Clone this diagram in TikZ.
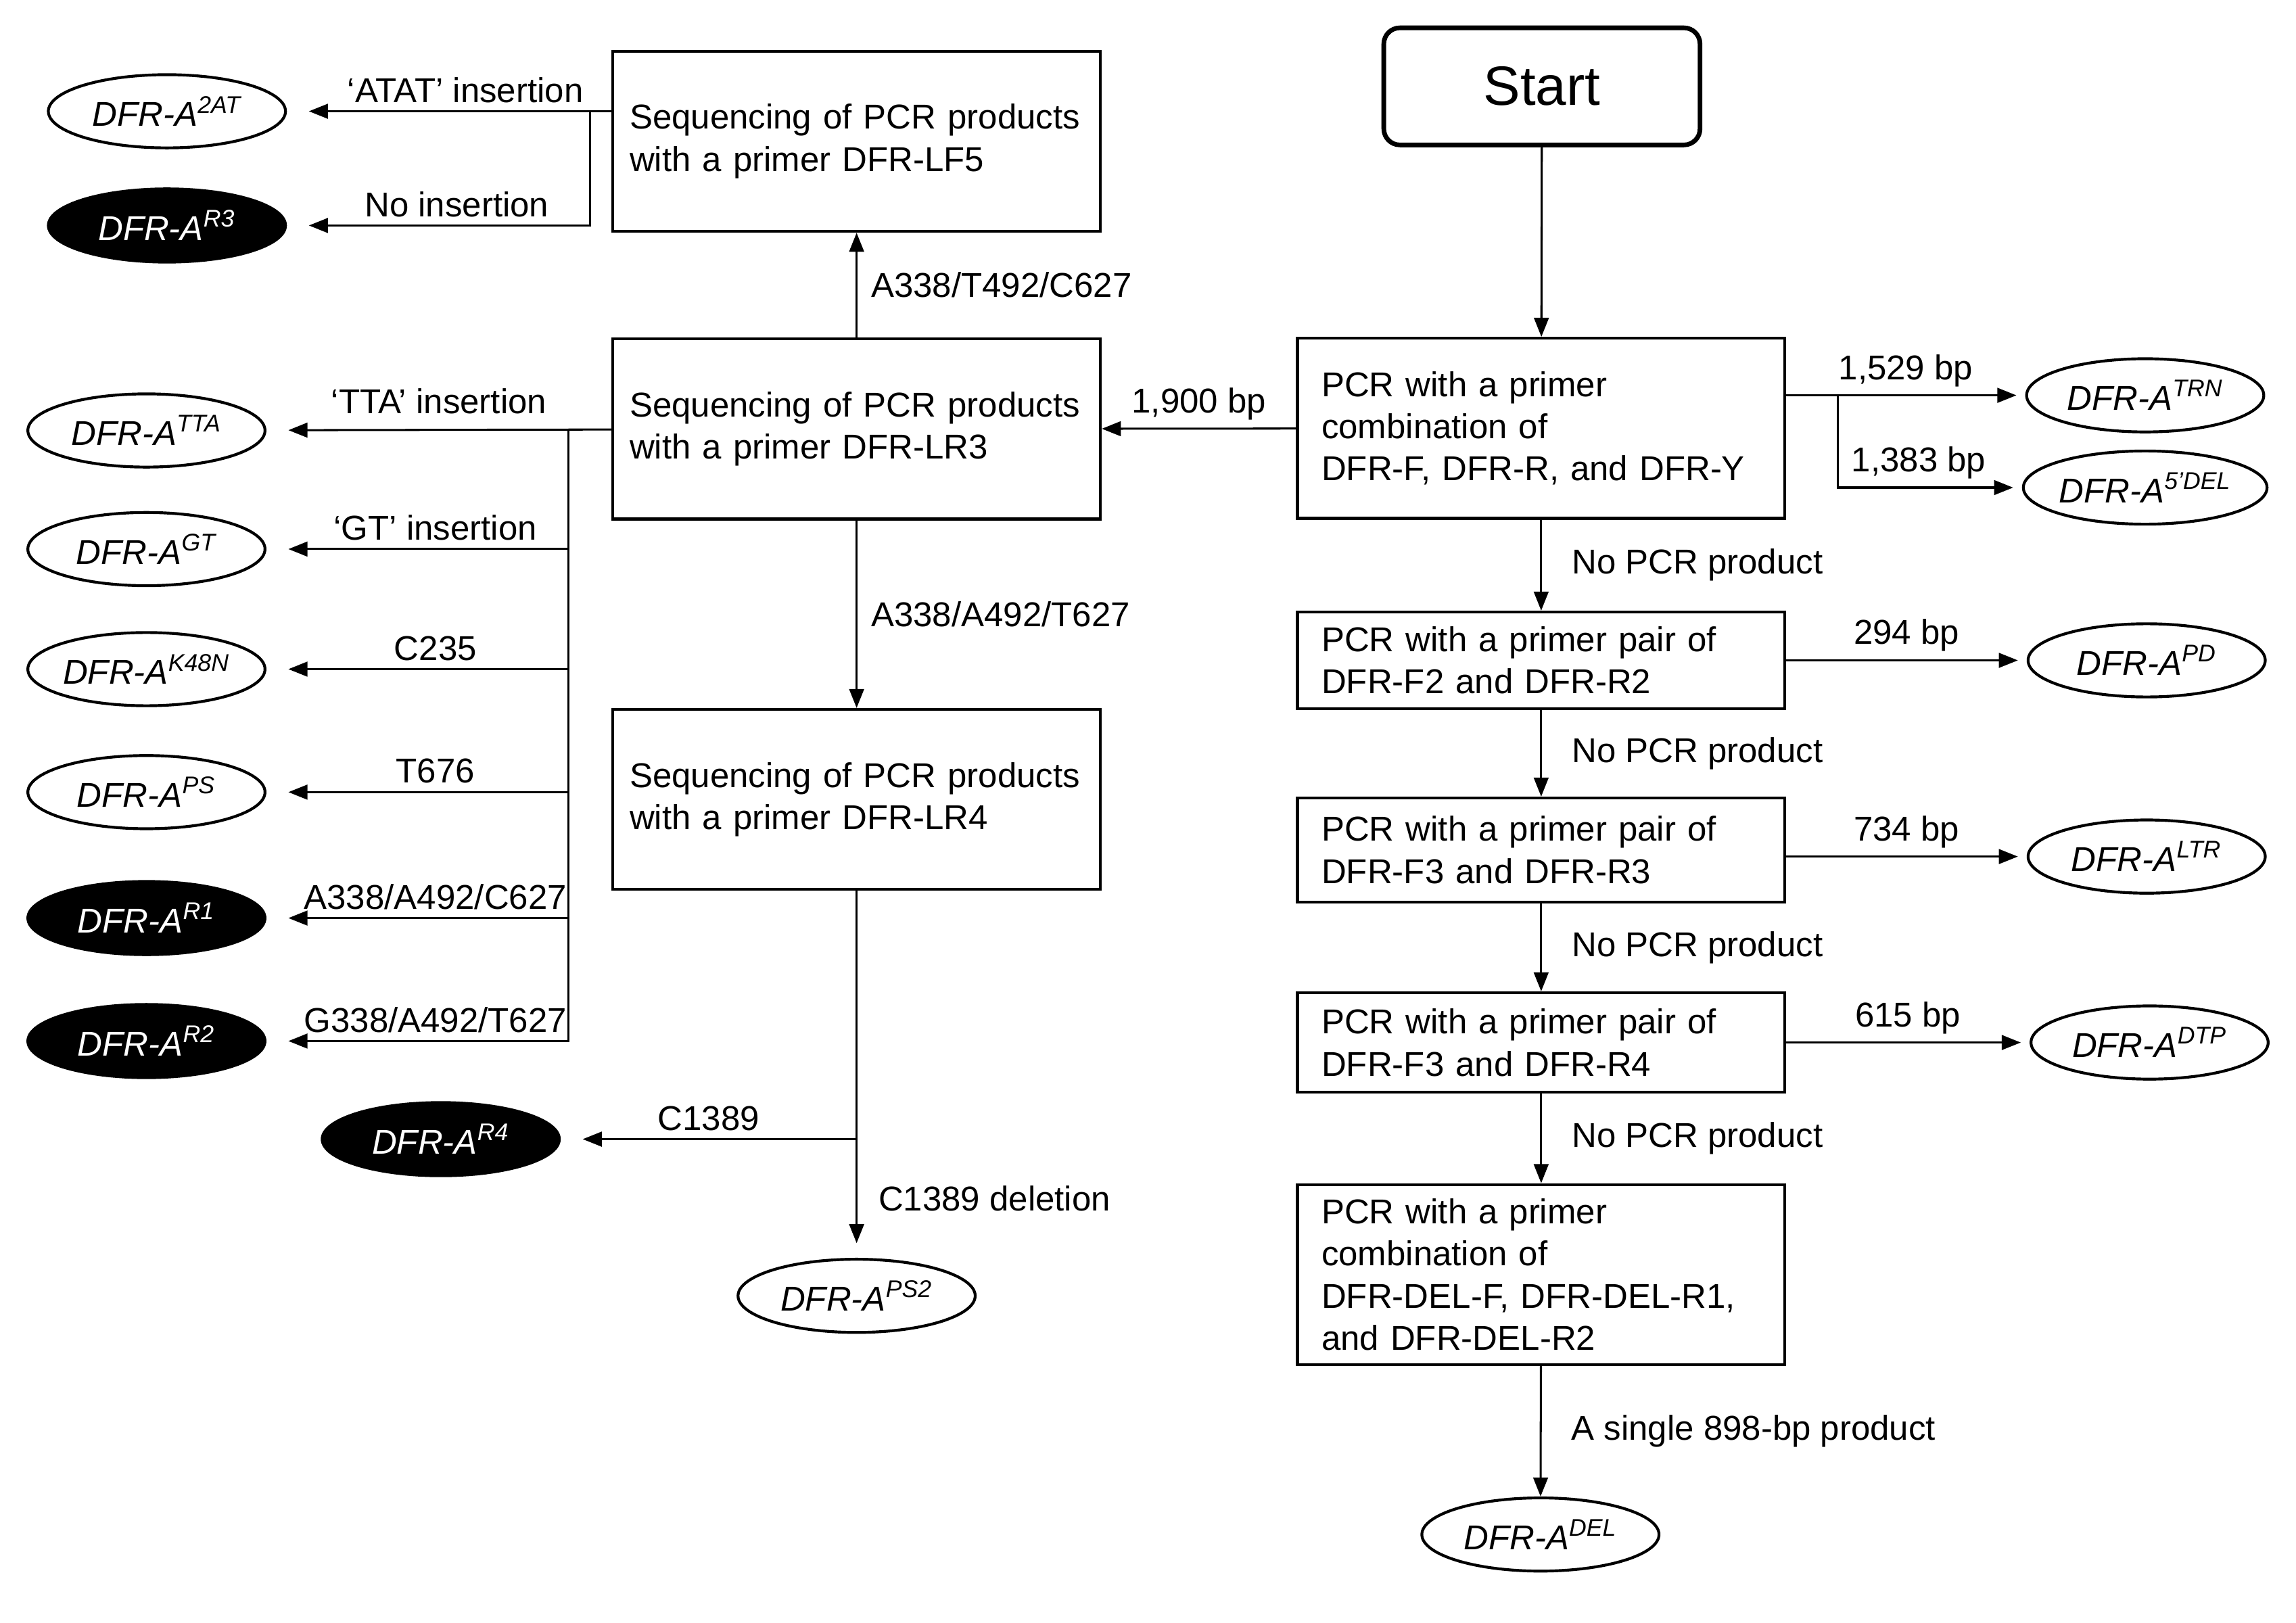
\documentclass[tikz,border=0pt]{standalone}
\usepackage{fontspec}
\setmainfont{Liberation Sans}
\usepackage{xcolor}
\usepackage{tikz}
\usetikzlibrary{positioning, arrows.meta, calc, shapes.geometric}

\newcommand{\dfra}[1]{DFR-A\textsuperscript{#1}}

\tikzset{
    txt/.style={font=\fontsize{13.4}{16.4}\selectfont},
    procbox/.style={txt, draw, line width=1.1pt, minimum width=6.66cm, inner xsep=0pt, align=left},
    seqbox/.style={procbox, text width=6.2cm, minimum height=2.46cm},
    pcrbox/.style={procbox, text width=6.0cm},
    startbox/.style={draw, line width=1.8pt, rounded corners=0.22cm, minimum width=4.32cm,
          minimum height=1.6cm, font=\fontsize{21.5}{24}\selectfont},
    allele/.style={ellipse, draw, line width=1.1pt, minimum width=3.24cm, minimum height=1.0cm,
          inner sep=0pt, font=\fontsize{13.4}{16.4}\selectfont\itshape},
    allelek/.style={allele, fill=black, text=white},
    ln/.style={line width=0.8pt},
    arr/.style={ln, -{Triangle[length=0.26cm, width=0.2cm]}},
    gapl/.style={shorten >=0.3cm},
    gapr/.style={shorten >=0.12cm},
    lbla/.style={txt, above, inner sep=3pt},
    lblr/.style={txt, right, inner sep=3pt, xshift=0.3cm},
    lblrs/.style={txt, right, inner sep=3pt, xshift=0.08cm}
}

\begin{document}
\begin{tikzpicture}[x=0.02cm, y=-0.02cm]
    \useasboundingbox (0,0) rectangle (1568,1108);

    \node[startbox] (start) at (1053,59) {Start};
    \node[pcrbox, minimum height=2.46cm] (pcr1) at (1052.5,292.5)
          {PCR with a primer\\combination of\\DFR-F, DFR-R, and DFR-Y};
    \node[pcrbox, minimum height=1.32cm] (pcr2) at (1052.5,451)
          {PCR with a primer pair of\\DFR-F2 and DFR-R2};
    \node[pcrbox, minimum height=1.42cm] (pcr3) at (1052.5,580.5)
          {PCR with a primer pair of\\DFR-F3 and DFR-R3};
    \node[pcrbox, minimum height=1.36cm] (pcr4) at (1052.5,712)
          {PCR with a primer pair of\\DFR-F3 and DFR-R4};
    \node[pcrbox, minimum height=2.46cm] (pcr5) at (1052.5,870.5)
          {PCR with a primer\\combination of\\DFR-DEL-F, DFR-DEL-R1,\\and DFR-DEL-R2};

    \node[seqbox] (lf5) at (585,96.5) {Sequencing of PCR products\\with a primer DFR-LF5};
    \node[seqbox] (lr3) at (585,293) {Sequencing of PCR products\\with a primer DFR-LR3};
    \node[seqbox] (lr4) at (585,546) {Sequencing of PCR products\\with a primer DFR-LR4};

    \node[allele] (a2at) at (114,76) {\dfra{2AT}};
    \node[allelek] (ar3) at (114,154) {\dfra{R3}};
    \node[allele] (atta) at (100,294) {\dfra{TTA}};
    \node[allele] (agt) at (100,375) {\dfra{GT}};
    \node[allele] (ak48n) at (100,457) {\dfra{K48N}};
    \node[allele] (aps) at (100,541) {\dfra{PS}};
    \node[allelek] (ar1) at (100,627) {\dfra{R1}};
    \node[allelek] (ar2) at (100,711) {\dfra{R2}};
    \node[allelek] (ar4) at (301,778) {\dfra{R4}};
    \node[allele] (aps2) at (585,885) {\dfra{PS2}};
    \node[allele] (atrn) at (1465,270) {\dfra{TRN}};
    \node[allele] (a5del) at (1465,333) {\dfra{5'DEL}};
    \node[allele] (apd) at (1466,451) {\dfra{PD}};
    \node[allele] (altr) at (1466,585) {\dfra{LTR}};
    \node[allele] (adtp) at (1468,712) {\dfra{DTP}};
    \node[allele] (adel) at (1052,1048) {\dfra{DEL}};

    \coordinate (lf5b) at (403,76);
    \coordinate (lr3b) at (388,293);
    \coordinate (lr4b) at (585,778);
    \coordinate (pcr1b) at (1255,270);

    % right column
    \draw[arr] (start) -- (pcr1);
    \draw[arr] (pcr1) -- node[lblr]{No PCR product} (pcr2);
    \draw[arr] (pcr2) -- node[lblr]{No PCR product} (pcr3);
    \draw[arr] (pcr3) -- node[lblr]{No PCR product} (pcr4);
    \draw[arr] (pcr4) -- node[lblr]{No PCR product} (pcr5);
    \draw[arr] (pcr5) -- node[lblr]{A single 898-bp product} (adel);
    \draw[arr, gapr] (pcr1.east |- atrn) -- node[lbla]{1,529 bp} (atrn);
    \draw[arr, gapr] (pcr1b) |- node[lbla, pos=0.72]{1,383 bp} (a5del);
    \draw[arr, gapr] (pcr2) -- node[lbla]{294 bp} (apd);
    \draw[arr, gapr] (pcr3.east |- altr) -- node[lbla]{734 bp} (altr);
    \draw[arr, gapr] (pcr4) -- node[lbla]{615 bp} (adtp);
    \draw[arr] (pcr1) -- node[lbla]{1,900 bp} (lr3);

    % sequencing column
    \draw[arr] (lr3) -- node[lblrs]{A338/T492/C627} (lf5);
    \draw[arr] (lr3) -- node[lblrs]{A338/A492/T627} (lr4);
    \draw[arr, gapl] (lf5.west |- a2at) -- node[lbla, pos=0.45]{`ATAT' insertion} (a2at);
    \draw[arr, gapl] (lf5b) |- node[lbla, pos=0.72]{No insertion} (ar3);
    \draw[arr, gapl] (lr3) -- node[lbla, yshift=0.1cm]{`TTA' insertion} (atta);
    \foreach \a/\t in {agt/{`GT' insertion}, ak48n/{C235}, aps/{T676},
          ar1/{A338/A492/C627}, ar2/{G338/A492/T627}}
        \draw[arr, gapl] (lr3b) |- node[lbla, pos=0.72]{\t} (\a);
    \draw[ln] (lr4) -- (lr4b);
    \draw[arr, gapl] (lr4b) -- node[lbla]{C1389} (ar4);
    \draw[arr, shorten >=0.2cm] (lr4b) -- node[lblrs, xshift=0.1cm]{C1389 deletion} (aps2);
\end{tikzpicture}
\end{document}
